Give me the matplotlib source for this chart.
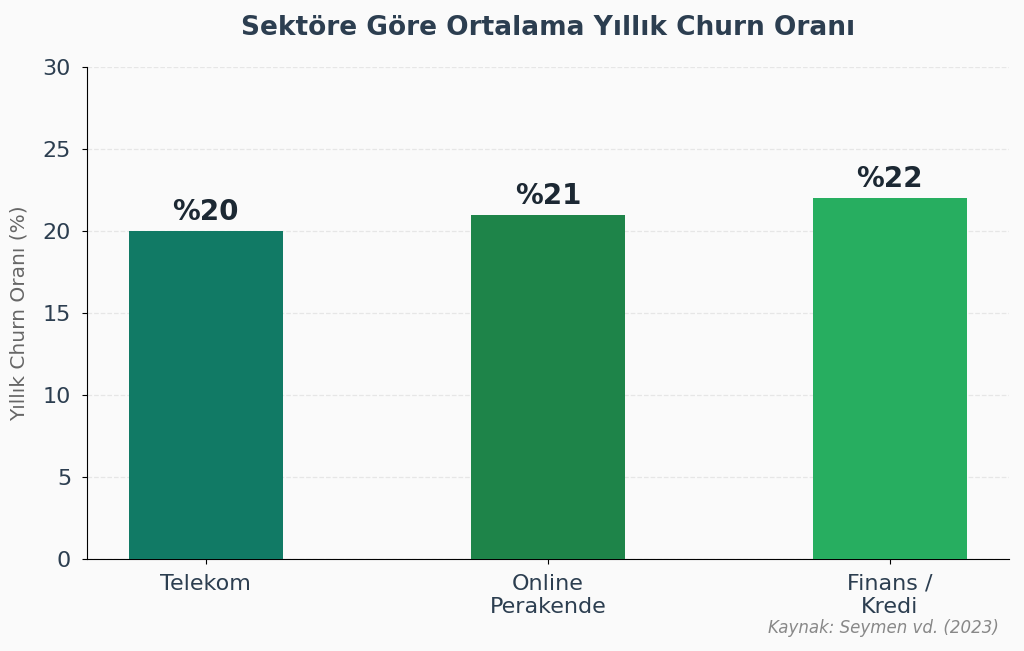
import matplotlib.pyplot as plt

sectors = ['Telekom', 'Online\nPerakende', 'Finans /\nKredi']
churn = [20, 21, 22]
colors = ['#117A65', '#1E8449', '#27AE60']
yticks = [0, 5, 10, 15, 20, 25, 30]

fig, ax = plt.subplots(figsize=(10.24, 6.51), dpi=100)
fig.patch.set_facecolor('#fafafa')
ax.set_facecolor('#fafafa')

x = range(len(sectors))
bars = ax.bar(x, churn, width=0.45, color=colors, zorder=3)

for b, v in zip(bars, churn):
    ax.text(b.get_x() + b.get_width() / 2, v + 0.3, f'%{v}', ha='center', va='bottom',
            fontsize=20, fontweight='bold', color='#1c2833')

ax.set_xticks(list(x))
ax.set_xticklabels(sectors, fontsize=16, color='#2c3e50')
ax.set_yticks(yticks)
ax.set_ylim(0, 30)
ax.tick_params(axis='x', pad=7)
ax.tick_params(axis='y', labelsize=16, labelcolor='#2c3e50', pad=8)
ax.set_ylabel('Yıllık Churn Oranı (%)', fontsize=14.5, color='#666666', labelpad=10)
ax.set_title('Sektöre Göre Ortalama Yıllık Churn Oranı', fontsize=19, fontweight='bold',
             color='#2c3e50', pad=23)

ax.spines['top'].set_visible(False)
ax.spines['right'].set_visible(False)
ax.yaxis.grid(True, linestyle='--', color='#e6e6e6', linewidth=0.9, zorder=0)

fig.text(0.975, 0.035, 'Kaynak: Seymen vd. (2023)', ha='right', va='center',
         fontsize=12, style='italic', color='#888888')

plt.subplots_adjust(left=0.085, right=0.985, top=0.897, bottom=0.141)
plt.savefig('out.png', dpi=100, facecolor=fig.get_facecolor())
